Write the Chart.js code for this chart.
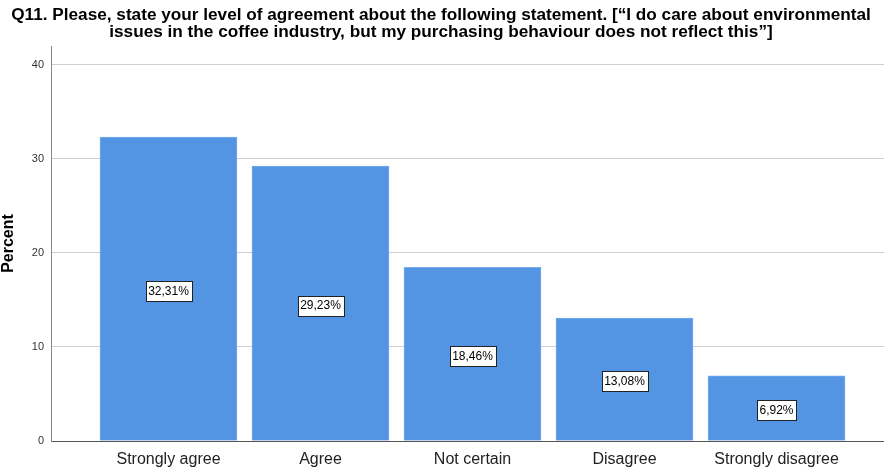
<!DOCTYPE html>
<html><head><meta charset="utf-8">
<script src="https://cdn.jsdelivr.net/npm/chart.js@4"></script>
<style>html,body{margin:0;padding:0;background:#fff;}#wrap{width:884px;height:469px;position:relative;}</style>
</head><body><div id="wrap"><canvas id="c" width="884" height="469"></canvas></div>
<script>
const categories = ["Strongly agree", "Agree", "Not certain", "Disagree", "Strongly disagree"];
const percentValues = [32.31, 29.23, 18.46, 13.08, 6.92];
const valueLabels = ["32,31%", "29,23%", "18,46%", "13,08%", "6,92%"];
const yTicks = [0, 10, 20, 30, 40];
const titleLines = ["Q11. Please, state your level of agreement about the following statement. [\u201CI do care about environmental", "issues in the coffee industry, but my purchasing behaviour does not reflect this\u201D]"];
const yAxisTitle = "Percent";

const FONT = '"Liberation Sans", Arial, sans-serif';

const overlay = {
  id: 'overlay',
  afterDatasetsDraw(chart) {
    const ctx = chart.ctx;
    const meta = chart.getDatasetMeta(0);
    const ys = chart.scales.y;
    ctx.save();
    ctx.font = '12px ' + FONT;
    ctx.textAlign = 'center';
    ctx.textBaseline = 'middle';
    meta.data.forEach((bar, i) => {
      const cy = ys.getPixelForValue(percentValues[i] / 2) + 2;
      const cx = bar.x;
      const w = ctx.measureText(valueLabels[i]).width + 5;
      const h = 20;
      const x0 = Math.round(cx - w / 2) + 0.5, y0 = Math.round(cy - h / 2) + 0.5;
      ctx.fillStyle = '#fff';
      ctx.fillRect(x0, y0, Math.round(w), h);
      ctx.strokeStyle = '#222';
      ctx.lineWidth = 1;
      ctx.strokeRect(x0, y0, Math.round(w), h);
      ctx.fillStyle = '#000';
      ctx.fillText(valueLabels[i], cx, cy + 0.5);
    });
    ctx.restore();
  },
  afterDraw(chart) {
    const ctx = chart.ctx;
    const ca = chart.chartArea;
    ctx.save();
    ctx.fillStyle = '#000';
    ctx.font = 'bold 17.2px ' + FONT;
    ctx.textAlign = 'center';
    ctx.textBaseline = 'middle';
    ctx.fillText(titleLines[0], 441, 15);
    ctx.fillText(titleLines[1], 441, 32);
    ctx.font = 'bold 16px ' + FONT;
    ctx.translate(9, (ca.top + ca.bottom) / 2);
    ctx.rotate(-Math.PI / 2);
    ctx.fillText(yAxisTitle, 0, 0);
    ctx.restore();
  }
};

new Chart(document.getElementById('c'), {
  type: 'bar',
  data: {
    datasets: [{
      data: percentValues.map((v, i) => ({ x: i, y: v })),
      backgroundColor: 'rgb(83,148,227)',
      borderColor: 'rgb(120,172,235)',
      borderWidth: 1,
      barThickness: 137
    }]
  },
  options: {
    responsive: false,
    animation: false,
    layout: { padding: { top: 46, right: 0, left: 0, bottom: 0 } },
    plugins: { legend: { display: false }, tooltip: { enabled: false }, title: { display: false } },
    scales: {
      x: {
        type: 'linear',
        offset: false,
        min: -0.773,
        max: 4.707,
        afterBuildTicks(s) { s.ticks = categories.map((c, i) => ({ value: i })); },
        afterFit(s) { s.height = 28; },
        ticks: {
          autoSkip: false, maxRotation: 0,
          callback: (v) => categories[v],
          font: { family: FONT, size: 16 }, color: '#222', padding: 9
        },
        grid: { display: false, drawTicks: false, offset: false },
        border: { display: true, color: '#555', width: 1 }
      },
      y: {
        min: 0, max: 42,
        afterBuildTicks(s) { s.ticks = yTicks.map(v => ({ value: v })); },
        afterFit(s) { s.width = 51; },
        ticks: { font: { family: FONT, size: 11 }, color: '#333', padding: 7 },
        grid: { color: '#cfcfcf', lineWidth: 1, drawTicks: false },
        border: { display: true, color: '#888', width: 1 }
      }
    }
  },
  plugins: [overlay]
});
</script></body></html>
